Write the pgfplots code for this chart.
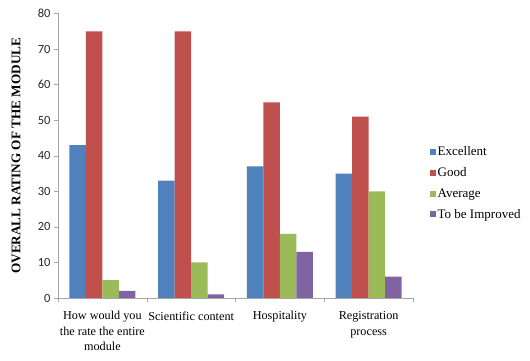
\documentclass[border=0pt]{standalone}
\usepackage{pgfplots}
\pgfplotsset{compat=1.18}
\usepackage{fontspec}
\setmainfont{Liberation Serif}
\newfontfamily\carlito{Carlito}
\definecolor{cB}{HTML}{4F81BD}
\definecolor{cR}{HTML}{C0504D}
\definecolor{cG}{HTML}{9BBB59}
\definecolor{cP}{HTML}{8064A2}
\pgfplotsset{mybar/.style={ybar, bar width=0.186, draw=none, fill=#1,
  legend image code/.code={\fill[#1] (0pt,-3pt) rectangle (6pt,3pt);}}}
\begin{document}
\begin{tikzpicture}
\begin{axis}[
  name=ax,
  width=355pt, height=284.5pt, scale only axis,
  ymin=0, ymax=80, ytick={0,10,...,80},
  xmin=-0.5, xmax=3.5, xtick={0,1,2,3},
  xticklabels={How would you\\the rate the entire\\module, Scientific content, Hospitality, Registration\\process},
  major x tick style={draw=none},
  minor xtick={-0.5,0.5,1.5,2.5,3.5},
  axis x line*=bottom, axis y line*=left,
  axis line style={-, gray!70},
  every tick/.style={gray!70},
  tick align=outside, major tick length=4pt, minor tick length=4pt,
  /pgf/number format/assume math mode=true,
  y tick label style={font=\carlito\fontsize{12.5}{14}\selectfont, text=black!85},
  x tick label style={align=center, font=\fontsize{12.2}{15.5}\selectfont, yshift=-6pt},
  ylabel={\textbf{OVERALL RATING OF THE MODULE}},
  ylabel style={at={(axis description cs:-0.118,0.5)}, anchor=center, font=\fontsize{13.2}{15}\selectfont},
  legend style={at={(1.038,0.547)}, anchor=north west, draw=none, fill=none,
    font=\fontsize{13}{15}\selectfont, row sep=6.5pt},
  legend cell align=left,
]
\addplot[mybar=cB, bar shift=-0.279] coordinates {(0,43)(1,33)(2,37)(3,35)};
\addplot[mybar=cR, bar shift=-0.093] coordinates {(0,75)(1,75)(2,55)(3,51)};
\addplot[mybar=cG, bar shift=0.093] coordinates {(0,5)(1,10)(2,18)(3,30)};
\addplot[mybar=cP, bar shift=0.279] coordinates {(0,2)(1,1)(2,13)(3,6)};
\legend{Excellent, Good, Average, To be Improved}
\end{axis}
\pgfresetboundingbox
\useasboundingbox ([shift={(-58pt,-63pt)}]ax.south west) rectangle ([shift={(117pt,13.5pt)}]ax.north east);
\end{tikzpicture}
\end{document}
